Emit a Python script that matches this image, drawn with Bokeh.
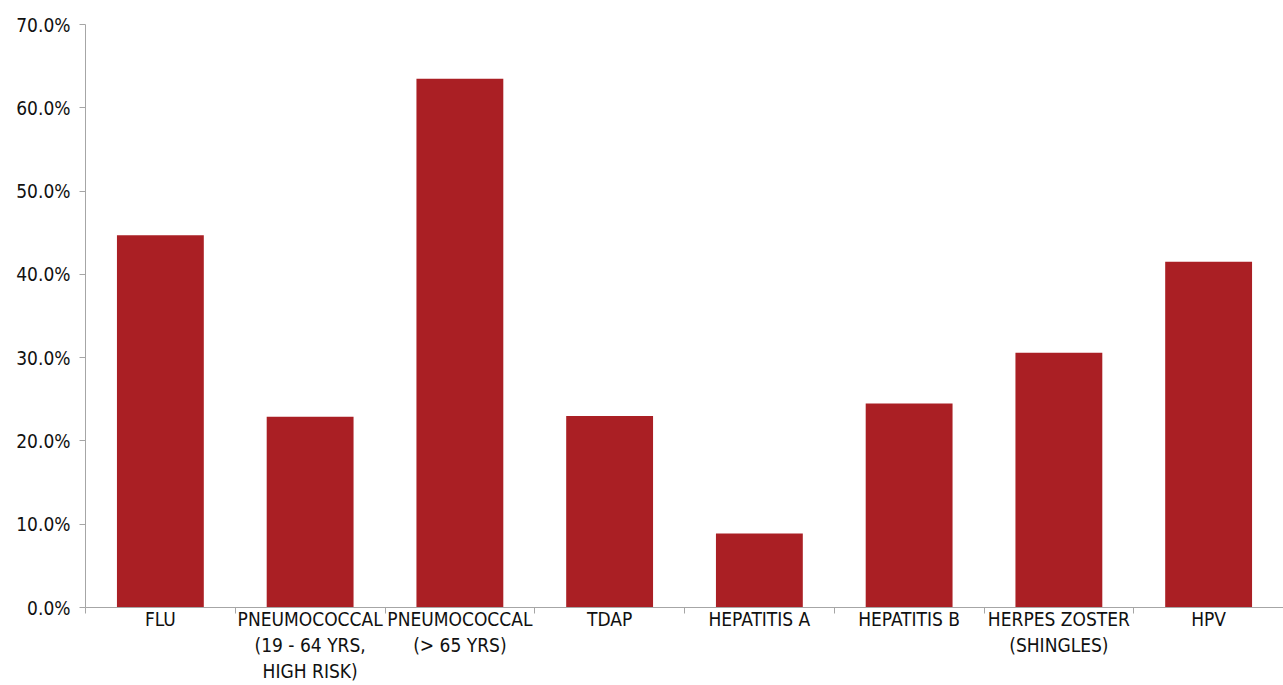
from bokeh.plotting import figure
from bokeh.models import Range1d, FixedTicker, NumeralTickFormatter, ColumnDataSource
from bokeh.embed import file_html
from bokeh.resources import INLINE

categories = ["FLU", "PNEUMOCOCCAL\n(19 - 64 YRS,\nHIGH RISK)", "PNEUMOCOCCAL\n(> 65 YRS)", "TDAP",
              "HEPATITIS A", "HEPATITIS B", "HERPES ZOSTER\n(SHINGLES)", "HPV"]
values = [0.447, 0.229, 0.635, 0.230, 0.089, 0.245, 0.306, 0.415]
y_ticks = [0.0, 0.1, 0.2, 0.3, 0.4, 0.5, 0.6, 0.7]

FONT = "'DejaVu Sans Condensed', 'Liberation Sans Narrow', sans-serif"
BAR = "#AA1F24"
AXIS = "#A6A6A6"

n = len(categories)
centers = [i + 0.5 for i in range(n)]
src = ColumnDataSource(dict(x=centers, top=values))

p = figure(width=1283, height=685, output_backend="svg", toolbar_location=None,
           x_range=Range1d(0, n), y_range=Range1d(0, 0.7),
           min_border_left=85, min_border_right=0, min_border_top=24, min_border_bottom=77)
p.outline_line_color = None
p.grid.visible = False
p.background_fill_color = "white"

p.vbar(x="x", top="top", width=0.58, bottom=0, source=src, fill_color=BAR, line_color=None)

xa = p.xaxis[0]
xa.ticker = FixedTicker(ticks=centers, minor_ticks=list(range(n + 1)))
xa.major_label_overrides = {c: lab for c, lab in zip(centers, categories)}
xa.major_tick_line_color = None
xa.major_tick_in = 0
xa.major_tick_out = 0
xa.minor_tick_line_color = AXIS
xa.minor_tick_in = 0
xa.minor_tick_out = 6
xa.axis_line_color = AXIS
xa.major_label_text_font = FONT
xa.major_label_text_font_size = "19px"
xa.major_label_text_color = "#111111"
xa.major_label_standoff = -6

ya = p.yaxis[0]
ya.ticker = FixedTicker(ticks=y_ticks)
ya.formatter = NumeralTickFormatter(format="0.0%")
ya.axis_line_color = AXIS
ya.major_tick_line_color = AXIS
ya.major_tick_in = 0
ya.major_tick_out = 6
ya.minor_tick_line_color = None
ya.major_label_text_font = FONT
ya.major_label_text_font_size = "19px"
ya.major_label_text_color = "#111111"
ya.major_label_standoff = 9

open("out.html", "w").write(file_html(p, INLINE))
